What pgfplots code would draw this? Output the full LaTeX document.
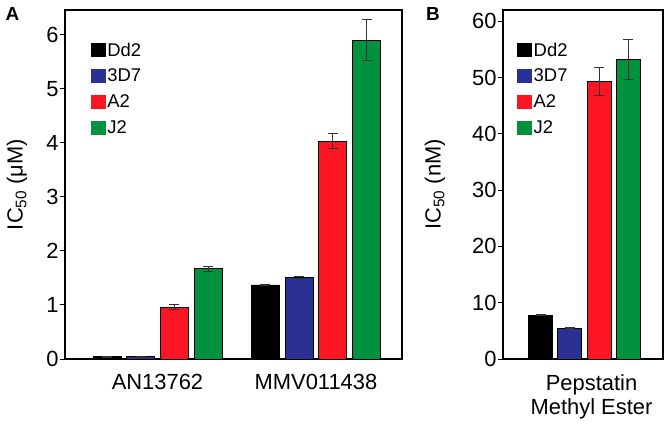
\documentclass[border=0pt]{standalone}
\usepackage{fontspec}
\setmainfont{Liberation Sans}
\usepackage{pgfplots}
\pgfplotsset{compat=1.18}
\definecolor{cblue}{RGB}{43,49,148}
\definecolor{cred}{RGB}{252,22,36}
\definecolor{cgreen}{RGB}{0,146,62}
\definecolor{errc}{RGB}{50,50,50}

\pgfplotsset{
  panel/.style={
    scale only axis, height=349bp, ymin=0,
    axis line style={line width=1.1bp},
    tick align=outside, ytick pos=left,
    xtick style={draw=none},
    major tick length=5bp,
    ytick style={line width=1bp, black},
    /pgf/number format/assume math mode=true,
    yticklabel style={font=\fontsize{22}{26}\selectfont, xshift=2bp},
    xticklabel style={font=\fontsize{22}{24}\selectfont, align=center, yshift=-7bp},
    every axis y label/.style={at={(rel axis cs:0,0.5)}, rotate=90, anchor=center,
      font=\fontsize{22}{26}\selectfont},
    legend cell align=left,
    legend style={draw=none, fill=none, inner sep=0pt, anchor=north west,
      font=\fontsize{18.5}{20}\selectfont, row sep=8.5bp,
      nodes={inner sep=1.5bp}},
    every axis plot/.append style={draw=black, line width=0.9bp,
      /pgfplots/error bars/y dir=both, /pgfplots/error bars/y explicit,
      /pgfplots/error bars/error bar style={line width=0.8bp, errc},
      /pgfplots/error bars/error mark options={rotate=90, mark size=5bp, line width=0.8bp, errc}},
  },
  sqlegend/.style={
    legend image code/.code={\fill[##1,draw=none] (0bp,-7bp) rectangle (15bp,7bp);},
  },
}

\begin{document}
\begin{tikzpicture}
\useasboundingbox (0,0) rectangle (666bp,425bp);
\begin{axis}[panel,
  at={(65bp,66bp)}, anchor=south west,
  width=337bp, ymax=6.46,
  ybar=5.7bp, bar width=28bp,
  xmin=-0.5836, xmax=1.5426,
  xtick={0,1}, xticklabels={AN13762,MMV011438},
  ytick={0,1,2,3,4,5,6},
  ylabel={IC\textsubscript{50} (μM)},
  ylabel style={yshift=48bp},
  legend style={at={(rel axis cs:0.076,0.911)}},
  sqlegend,
]
\addplot[fill=black] coordinates {(0,0.04) +- (0,0.004) (1,1.37) +- (0,0.01)};
\addplot[fill=cblue] coordinates {(0,0.04) +- (0,0.004) (1,1.51) +- (0,0.01)};
\addplot[fill=cred] coordinates {(0,0.96) +- (0,0.05) (1,4.03) +- (0,0.14)};
\addplot[fill=cgreen] coordinates {(0,1.67) +- (0,0.04) (1,5.90) +- (0,0.38)};
\legend{Dd2,3D7,A2,J2}
\end{axis}

\begin{axis}[panel,
  at={(503bp,66bp)}, anchor=south west,
  width=160bp, ymax=62,
  ybar=5.3bp, bar width=24bp,
  xmin=-81.5, xmax=78.5,
  xtick={0}, xticklabels={Pepstatin\\Methyl Ester},
  xticklabel style={xshift=7bp},
  ytick={0,10,20,30,40,50,60},
  ylabel={IC\textsubscript{50} (nM)},
  ylabel style={yshift=68bp},
  legend style={at={(rel axis cs:0.0875,0.911)}},
  sqlegend,
]
\addplot[fill=black] coordinates {(0,7.8) +- (0,0.1)};
\addplot[fill=cblue] coordinates {(0,5.5) +- (0,0.1)};
\addplot[fill=cred] coordinates {(0,49.3) +- (0,2.5)};
\addplot[fill=cgreen] coordinates {(0,53.2) +- (0,3.5)};
\legend{Dd2,3D7,A2,J2}
\end{axis}

\node[font=\bfseries\fontsize{19}{22}\selectfont, anchor=center] at (12.5bp,411bp) {A};
\node[font=\bfseries\fontsize{19}{22}\selectfont, anchor=center] at (433bp,411bp) {B};
\end{tikzpicture}
\end{document}
